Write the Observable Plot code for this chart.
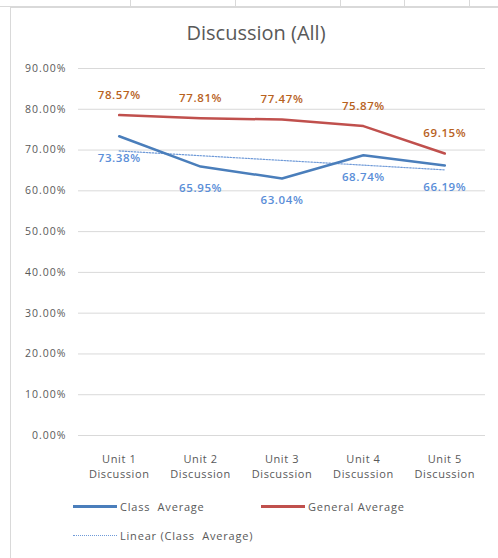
<!DOCTYPE html>
<html><head><meta charset="utf-8">
<script src="https://cdn.jsdelivr.net/npm/d3@7"></script>
<script src="https://cdn.jsdelivr.net/npm/@observablehq/plot@0.6"></script>
<style>
body{margin:0;background:#fff;font-family:"Open Sans",sans-serif;}
#wrap{position:relative;width:498px;height:558px;overflow:hidden;}
.frame{position:absolute;left:10px;top:7px;width:500px;height:560px;border:1px solid #d9d9d9;box-sizing:border-box;}
.cell{position:absolute;top:0;height:7px;border-left:1px solid #d9d9d9;}
.cellh{position:absolute;top:6px;left:0;width:498px;border-top:1px solid #d9d9d9;}
#title{position:absolute;left:10px;width:492px;top:19px;text-align:center;font-size:20px;color:#595959;}
#chart{position:absolute;left:0;top:0;}
.leg{position:absolute;font-size:11px;letter-spacing:0.8px;color:#595959;display:flex;align-items:center;}
.sw{display:inline-block;width:44px;margin-right:3px;}
#chart svg text{letter-spacing:0.6px;}
#chart svg g.yax text{letter-spacing:1px;}
</style></head>
<body><div id="wrap">
<div class="cellh"></div>
<div class="cell" style="left:130px"></div><div class="cell" style="left:235px"></div><div class="cell" style="left:340px"></div><div class="cell" style="left:404px"></div><div class="cell" style="left:469px"></div>
<div class="frame"></div>
<div id="title">Discussion (All)</div>
<div id="chart"></div>
<div class="leg" style="left:73px;top:499px"><span class="sw" style="border-top:3px solid #4a7ebb"></span>Class&nbsp; Average</div>
<div class="leg" style="left:261px;top:499px"><span class="sw" style="border-top:3px solid #c0504d"></span>General Average</div>
<div class="leg" style="left:73px;top:528px"><span class="sw" style="border-top:1px dotted #6f9ad8"></span>Linear (Class&nbsp; Average)</div>
</div>
<script>
const units = ["Unit 1\nDiscussion","Unit 2\nDiscussion","Unit 3\nDiscussion","Unit 4\nDiscussion","Unit 5\nDiscussion"];
const unitIndex = [1,2,3,4,5];
const classAverage = [0.7338,0.6595,0.6304,0.6874,0.6619];
const generalAverage = [0.7857,0.7781,0.7747,0.7587,0.6915];
const yTicks = [0,0.1,0.2,0.3,0.4,0.5,0.6,0.7,0.8,0.9];

const cls = unitIndex.map((x,i)=>({x, y: classAverage[i]}));
const gen = unitIndex.map((x,i)=>({x, y: generalAverage[i]}));
const pct = d3.format(".2%");

const plot = Plot.plot({
  width: 498, height: 490,
  marginLeft: 78, marginRight: 13, marginTop: 68, marginBottom: 55,
  style: {fontFamily: "'Open Sans', sans-serif", background: "transparent"},
  x: {domain: [0.5, 5.5], axis: null},
  y: {domain: [0, 0.9], axis: null},
  marks: [
    Plot.ruleY(yTicks, {stroke: "#d9d9d9", strokeWidth: 1}),
    Plot.axisY({ticks: yTicks, tickSize: 0, tickPadding: 12, tickFormat: d3.format(".2%"), fontSize: 10.5, fill: "#595959", label: null, className: "yax"}),
    Plot.axisX({ticks: unitIndex, tickSize: 0, tickPadding: 17, tickFormat: i => units[i-1], fontSize: 11, fill: "#595959", lineHeight: 1.35, label: null}),
    Plot.linearRegressionY(cls, {x: "x", y: "y", ci: 0, stroke: "#6f9ad8", strokeWidth: 1.2, strokeDasharray: "1.5,1.5"}),
    Plot.line(cls, {x: "x", y: "y", stroke: "#4a7ebb", strokeWidth: 2.5}),
    Plot.line(gen, {x: "x", y: "y", stroke: "#c0504d", strokeWidth: 2.5}),
    Plot.text(gen, {x: "x", y: "y", text: d => pct(d.y), dy: -20, fill: "#b8621e", fontSize: 11.5, fontWeight: 600}),
    Plot.text(cls, {x: "x", y: "y", text: d => pct(d.y), dy: 22, fill: "#5a8ed8", fontSize: 11.5, fontWeight: 600})
  ]
});
document.getElementById("chart").appendChild(plot);
</script>
</body></html>
